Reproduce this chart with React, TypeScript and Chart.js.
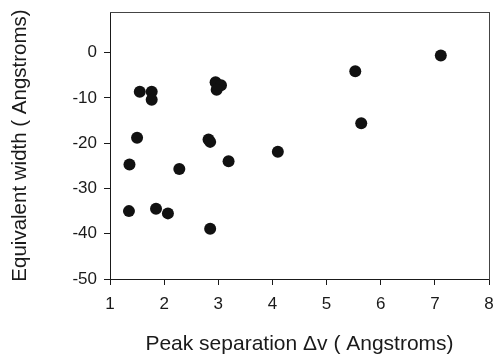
import React, { useEffect, useRef } from "react";
import { Chart, registerables } from "chart.js";

Chart.register(...registerables);

const peakSeparation = [
  7.11, 5.53, 1.55, 1.77, 1.77, 2.95, 3.05, 2.97, 5.64, 1.5,
  2.82, 2.85, 4.1, 3.19, 1.36, 2.28, 1.35, 1.85, 2.07, 2.85,
];
const equivalentWidth = [
  -0.6, -4.1, -8.6, -8.6, -10.4, -6.5, -7.2, -8.2, -15.6, -18.8,
  -19.2, -19.7, -21.9, -24.0, -24.7, -25.7, -35.0, -34.5, -35.5, -38.9,
];
const xTicks = [1, 2, 3, 4, 5, 6, 7, 8];
const yTicks = [-50, -40, -30, -20, -10, 0];

const FONT = "'Liberation Sans', Arial, sans-serif";
const INK = "#1a1a1a";

const zeroPad = (s: any) => {
  s.paddingTop = 0;
  s.paddingBottom = 0;
  s.paddingLeft = 0;
  s.paddingRight = 0;
};

export default function App() {
  const ref = useRef<HTMLCanvasElement | null>(null);
  useEffect(() => {
    if (!ref.current) return;
    const points = peakSeparation.map((x, i) => ({ x, y: equivalentWidth[i] }));
    const chart = new Chart(ref.current, {
      type: "scatter",
      data: {
        datasets: [
          {
            data: points,
            backgroundColor: "#111111",
            borderColor: "#111111",
            pointRadius: 6,
            pointHoverRadius: 6,
            borderWidth: 0,
          },
        ],
      },
      options: {
        animation: false,
        responsive: true,
        maintainAspectRatio: false,
        layout: { padding: { left: 0, top: 12, right: 5, bottom: 0 } },
        plugins: { legend: { display: false }, tooltip: { enabled: false } },
        scales: {
          x: {
            type: "linear",
            position: "bottom",
            min: 1,
            max: 8,
            afterBuildTicks: (s: any) => {
              s.ticks = xTicks.map((v) => ({ value: v }));
            },
            afterFit: (s: any) => {
              s.height = 79;
              zeroPad(s);
            },
            grid: { drawOnChartArea: false, drawTicks: true, tickLength: 6, color: INK },
            border: { display: true, color: INK, width: 1 },
            ticks: { color: INK, font: { family: FONT, size: 17 }, padding: 9, maxRotation: 0 },
            title: {
              display: true,
              text: "Peak separation \u0394v ( Angstroms)",
              color: INK,
              font: { family: FONT, size: 21 },
              padding: { top: 0, bottom: 1 },
            },
          },
          y: {
            type: "linear",
            position: "left",
            min: -50,
            max: 9,
            afterBuildTicks: (s: any) => {
              s.ticks = yTicks.map((v) => ({ value: v }));
            },
            afterFit: (s: any) => {
              s.width = 110;
              zeroPad(s);
            },
            grid: { drawOnChartArea: false, drawTicks: true, tickLength: 6, color: INK },
            border: { display: true, color: INK, width: 1 },
            ticks: { color: INK, font: { family: FONT, size: 17 }, padding: 7 },
            title: {
              display: true,
              text: "Equivalent width ( Angstroms)",
              color: INK,
              font: { family: FONT, size: 20.5 },
              padding: { top: 8, bottom: 0 },
            },
          },
          x2: {
            type: "linear",
            position: "top",
            min: 1,
            max: 8,
            afterFit: (s: any) => {
              s.height = 0;
              zeroPad(s);
            },
            grid: { display: false },
            border: { display: true, color: "#444444", width: 1 },
            ticks: { display: false },
          },
          y2: {
            type: "linear",
            position: "right",
            min: -50,
            max: 9,
            afterFit: (s: any) => {
              s.width = 0;
              zeroPad(s);
            },
            grid: { display: false },
            border: { display: true, color: "#444444", width: 1 },
            ticks: { display: false },
          },
        },
      },
    });
    return () => chart.destroy();
  }, []);
  return (
    <div style={{ position: "fixed", left: 0, top: 0, width: 495, height: 358, background: "#fff" }}>
      <canvas ref={ref} />
    </div>
  );
}
